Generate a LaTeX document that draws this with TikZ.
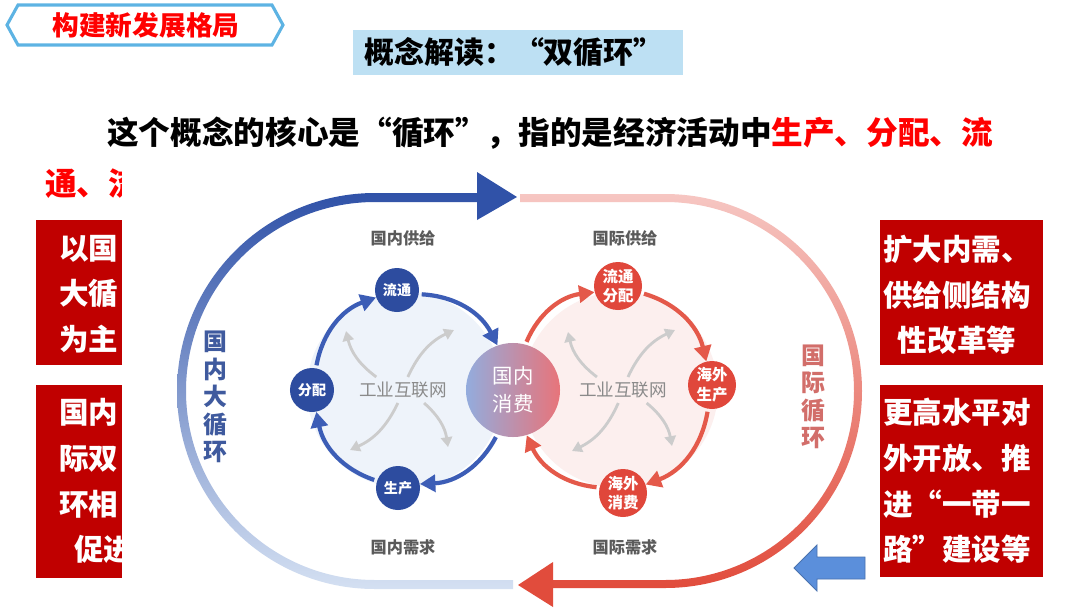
\documentclass[tikz,border=0pt]{standalone}
\usepackage{fontspec}
\setmainfont{Noto Sans CJK SC}
\usetikzlibrary{positioning,arrows.meta}
\definecolor{hdrblue}{HTML}{5DB3E3}
\definecolor{titlebg}{HTML}{BDE0F3}
\definecolor{boxred}{HTML}{C00000}
\definecolor{dkblue}{HTML}{2D4C9F}
\definecolor{arrblue}{HTML}{3C5DB6}
\definecolor{cred}{HTML}{E0473B}
\definecolor{arrred}{HTML}{E4594A}
\definecolor{lblgray}{HTML}{5A5A5A}
\definecolor{netgray}{HTML}{8A8A8A}
\definecolor{ptrblue}{HTML}{5B8FDB}
\definecolor{bandblueA}{HTML}{3052A8}
\definecolor{bandblueB}{HTML}{D4E0F2}
\definecolor{bandredA}{HTML}{F6C6C2}
\definecolor{bandredB}{HTML}{E14C3C}
\definecolor{bgblue}{HTML}{EEF3FA}
\definecolor{bgred}{HTML}{FCEFEE}
\definecolor{vtblue}{HTML}{3F5A9E}
\definecolor{vtred}{HTML}{D26E6A}
\definecolor{xfblue}{HTML}{93ACDD}
\definecolor{xfred}{HTML}{E8747A}
\tikzset{
  boxtext/.style={text=white, font=\fontsize{21}{32.5}\selectfont\bfseries, inner sep=0pt},
  bluedot/.style={circle, fill=dkblue, minimum size=1.1cm, inner sep=0pt, text=white, font=\fontsize{10}{12}\selectfont\bfseries},
  reddot/.style={circle, fill=cred, minimum size=1.2cm, inner sep=0pt, text=white, align=center, font=\fontsize{11}{14}\selectfont\bfseries},
  lbl/.style={text=lblgray, font=\fontsize{11.5}{13}\selectfont\bfseries},
  net/.style={text=netgray, font=\fontsize{12.5}{14}\selectfont},
  vtext/.style={align=center, font=\fontsize{17}{19.5}\selectfont\bfseries},
  cycblue/.style={draw=arrblue, line width=3pt, -{Triangle[length=11pt,width=12pt]}, shorten <=2pt},
  cycred/.style={draw=arrred, line width=3pt, -{Triangle[length=11pt,width=12pt]}, shorten <=2pt},
  gryarr/.style={draw=gray!40, line width=2pt, -{Triangle[length=7pt,width=8pt]}},
}
\begin{document}
\begin{tikzpicture}[x=0.025cm,y=-0.025cm]
\useasboundingbox (0,0) rectangle (1080,608);

% header and title
\draw[hdrblue, line width=2.2pt] (7,25) -- (18,5) -- (272,5) -- (283,25) -- (272,45) -- (18,45) -- cycle;
\node (hdr) at (146,25) [text=red, font=\fontsize{19}{22}\selectfont\bfseries] {构建新发展格局};
\fill[titlebg] (353,30) rectangle (683,75);
\node (title) at (514,52) [font=\fontsize{21.3}{24}\selectfont\bfseries] {概念解读：“双循环”};

\node (intro) [anchor=west, inner sep=0pt, font=\fontsize{22.5}{27}\selectfont\bfseries] at (107,133) {这个概念的核心是“循环”，指的是经济活动中\textcolor{red}{生产、分配、流}};
\node (intro2) [anchor=west, inner sep=0pt, text=red, font=\fontsize{22.5}{27}\selectfont\bfseries] at (45,183) {通、流};

% red boxes
\fill[boxred] (36,220) rectangle (122,365);
\fill[boxred] (36,385) rectangle (122,578);
\fill[boxred] (880,220) rectangle (1043,365);
\fill[boxred] (880,385) rectangle (1043,577);
\node (l1) [boxtext, anchor=west, align=left] at (59,294) {以国\\大循\\为主};
\node (l2) [boxtext, anchor=west, align=left] at (59,481) {国内\\际双\\环相\\\hspace{0.5em}促进};
\node (r1) [boxtext, align=center] at (957,295) {扩大内需、\\供给侧结构\\性改革等};
\node (r2) [boxtext, align=center] at (957,481) {更高水平对\\外开放、推\\进“一带一\\路”建设等};

% diagram
\fill[white] (122,160) rectangle (880,608);
\fill[bgblue] (405,390) circle[radius=98];
\fill[bgred] (620,390) circle[radius=98];

\shade[top color=bandblueA, bottom color=bandblueB] (477,193) -- (375,193) arc[start angle=-90, end angle=-270, radius=198] -- (513,589) -- (513,580) -- (375,580) arc[start angle=90, end angle=270, radius=189] -- (477,202) -- cycle;
\fill[bandblueA] (477,172) -- (517,197) -- (477,220) -- cycle;
\shade[top color=bandredA, bottom color=bandredB] (520,194) -- (665,194) arc[start angle=-90, end angle=90, radius=197] -- (553,588) -- (553,580) -- (665,580) arc[start angle=90, end angle=-90, radius=189] -- (520,202) -- cycle;
\fill[bandredB] (553,562) -- (518,585) -- (553,607) -- cycle;

\node (gn) [vtext, text=vtblue] at (215,397) {国\\内\\大\\循\\环};
\node (gj) [vtext, text=vtred] at (813,397) {国\\际\\循\\环};

\node (lbl1) [lbl] at (403,238) {国内供给};
\node (lbl2) [lbl] at (403,547) {国内需求};
\node (lbl3) [lbl] at (625,238) {国际供给};
\node (lbl4) [lbl] at (625,547) {国际需求};

\node (lt) [bluedot] at (397,290) {流通};
\node (fp) [bluedot] at (312,390) {分配};
\node (sc) [bluedot] at (398,488) {生产};
\node (xf) [circle, minimum size=2.35cm, inner sep=0pt, left color=xfblue, right color=xfred, text=white, align=center, font=\fontsize{14.5}{20}\selectfont] at (513,390) {国内\\消费};
\node (lf) [reddot] at (618,286) {流通\\分配};
\node (hs) [reddot] at (712,385) {海外\\生产};
\node (hx) [reddot] at (623,493) {海外\\消费};

\node (net1) [net] at (403,390) {工业互联网};
\node (net2) [net] at (623,390) {工业互联网};

\draw[cycblue] (fp) to[bend left=30] (lt);
\draw[cycblue] (lt) to[bend left=30] (xf);
\draw[cycblue] (xf) to[bend left=30] (sc);
\draw[cycblue] (sc) to[bend left=30] (fp);
\draw[cycred] (xf) to[bend left=30] (lf);
\draw[cycred] (lf) to[bend left=30] (hs);
\draw[cycred] (hs) to[bend left=30] (hx);
\draw[cycred] (hx) to[bend left=30] (xf);

\coordinate (g1) at (346,331);
\coordinate (g2) at (454,330);
\coordinate (g3) at (350,450);
\coordinate (g4) at (448,447);
\coordinate (g5) at (568,332);
\coordinate (g6) at (675,330);
\coordinate (g7) at (572,451);
\coordinate (g8) at (672,446);
\draw[gryarr] (net1) to[bend left=20] (g1);
\draw[gryarr] (net1) to[bend left=20] (g2);
\draw[gryarr] (net1) to[bend left=20] (g3);
\draw[gryarr] (net1) to[bend left=20] (g4);
\draw[gryarr] (net2) to[bend left=20] (g5);
\draw[gryarr] (net2) to[bend left=20] (g6);
\draw[gryarr] (net2) to[bend left=20] (g7);
\draw[gryarr] (net2) to[bend left=20] (g8);

% pointer
\draw[fill=ptrblue, draw=ptrblue!80!black, line width=0.6pt] (865,557) -- (817,557) -- (817,545) -- (794,568) -- (817,591) -- (817,579) -- (865,579) -- cycle;
\end{tikzpicture}
\end{document}
